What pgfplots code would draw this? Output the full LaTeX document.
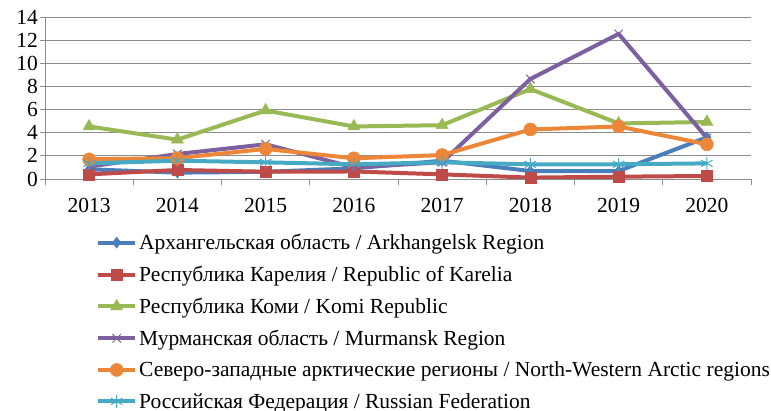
\documentclass[border=0pt]{standalone}
\usepackage{fontspec}
\setmainfont{Liberation Serif}
\usepackage{pgfplots}
\pgfplotsset{compat=1.18}
\definecolor{cBlue}{HTML}{4A7EBB}
\definecolor{cRed}{HTML}{BE4B48}
\definecolor{cGreen}{HTML}{98B954}
\definecolor{cPurple}{HTML}{7D60A0}
\definecolor{cOrange}{HTML}{EC8638}
\definecolor{cCyan}{HTML}{46AAC5}
\definecolor{cGrid}{HTML}{8C8C8C}
\begin{document}
\begin{tikzpicture}
\begin{axis}[
  at={(0pt,0pt)}, anchor=south west,
  width=706pt, height=162pt, scale only axis,
  xmin=-0.5, xmax=7.5, ymin=0, ymax=14,
  xtick={0,...,7},
  xticklabels={2013,2014,2015,2016,2017,2018,2019,2020},
  major x tick style={draw=none},
  minor xtick={-0.5,0.5,...,7.5},
  minor tick length=6pt,
  ytick={0,2,...,14},
  major tick length=5pt,
  tick align=outside,
  tick pos=left,
  ymajorgrids,
  grid style={cGrid, line width=0.9pt},
  axis line style={cGrid, line width=0.9pt},
  tick style={cGrid, line width=0.9pt},
  axis x line*=bottom, axis y line*=left,
  /pgf/number format/assume math mode=true,
  tick label style={font=\fontsize{21.5}{25}\selectfont},
  xticklabel style={yshift=-11pt},
  yticklabel style={inner sep=2pt},
  legend style={
    at={(51pt,-53pt)}, anchor=north west, draw=none, fill=none,
    font=\fontsize{21.5}{25}\selectfont, inner sep=0pt,
    row sep=11pt, cells={anchor=west},
  },
  legend cell align=left,
  legend image code/.code={
    \draw[#1] (0pt,0pt) -- (37pt,0pt);
    \draw[#1, mark repeat=1] plot coordinates {(18.5pt,0pt)};
  },
]
\addplot[cBlue, line width=4pt, mark=diamond*, mark size=5.5pt, mark options={solid, line width=0.5pt}] coordinates {
(0,0.84) (1,0.55) (2,0.62) (3,0.92) (4,1.58) (5,0.69) (6,0.69) (7,3.6)};
\addlegendentry{Архангельская область / Arkhangelsk Region}
\addplot[cRed, line width=4pt, mark=square*, mark size=5.5pt, mark options={solid, line width=0.5pt}] coordinates {
(0,0.40) (1,0.78) (2,0.63) (3,0.65) (4,0.40) (5,0.12) (6,0.20) (7,0.26)};
\addlegendentry{Республика Карелия / Republic of Karelia}
\addplot[cGreen, line width=4pt, mark=triangle*, mark size=7pt, mark options={solid, line width=0.5pt}] coordinates {
(0,4.54) (1,3.40) (2,5.92) (3,4.54) (4,4.65) (5,7.77) (6,4.80) (7,4.93)};
\addlegendentry{Республика Коми / Komi Republic}
\addplot[cPurple, line width=4pt, mark=x, mark size=6pt, mark options={solid, line width=1pt}] coordinates {
(0,1.07) (1,2.16) (2,3.00) (3,1.00) (4,1.45) (5,8.64) (6,12.54) (7,3.55)};
\addlegendentry{Мурманская область / Murmansk Region}
\addplot[cOrange, line width=4pt, mark=*, mark size=6.5pt, mark options={solid, line width=0.5pt}] coordinates {
(0,1.70) (1,1.80) (2,2.60) (3,1.79) (4,2.07) (5,4.28) (6,4.54) (7,3.00)};
\addlegendentry{Северо-западные арктические регионы / North-Western Arctic regions}
\addplot[cCyan, line width=4pt, mark=asterisk, mark size=6.5pt, mark options={solid, line width=1pt}] coordinates {
(0,1.35) (1,1.58) (2,1.44) (3,1.27) (4,1.44) (5,1.27) (6,1.27) (7,1.35)};
\addlegendentry{Российская Федерация / Russian Federation}
\end{axis}
\pgfresetboundingbox
\path[use as bounding box] (-45pt,-232pt) rectangle (726pt,179pt);
\end{tikzpicture}
\end{document}
